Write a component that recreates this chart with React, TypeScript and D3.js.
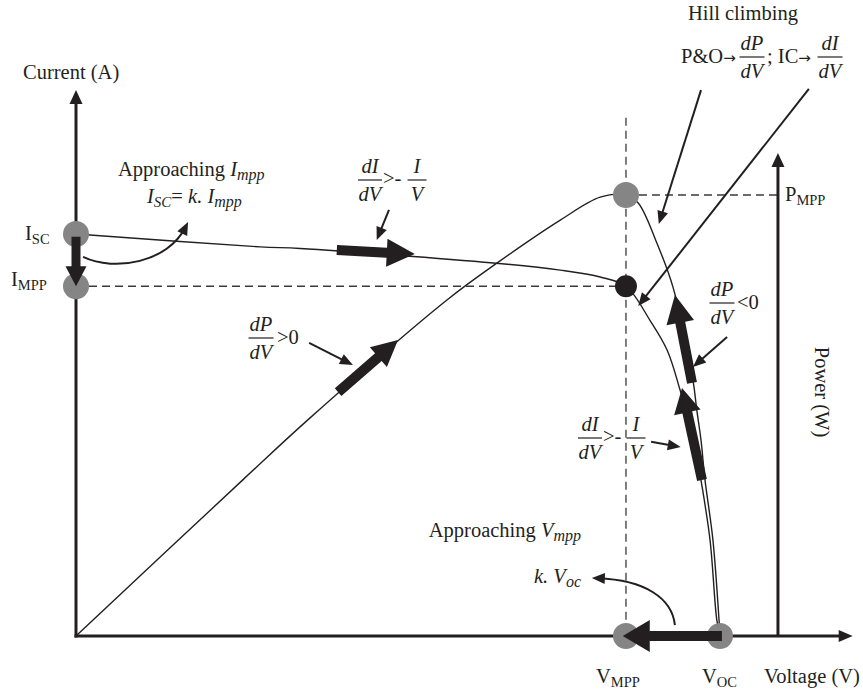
import React from "react";
import * as d3 from "d3";

const W = 863;
const H = 693;

// I–V characteristic: voltage (% of Voc) and current (% of Isc)
const ivVoltage = [0, 28.6, 34.8, 64.8, 75.2, 81.4, 85.4, 89.1, 91.8, 93.8, 95.96, 97.05, 98.45, 99.5, 100];
const ivCurrent = [100, 96.8, 96.4, 92.8, 91.0, 89.3, 87.0, 78.6, 71.1, 61.2, 48.8, 38.8, 23.9, 4.0, 0];

// P–V characteristic: voltage (% of Voc) and power (% of Pmpp)
const pvVoltage = [0, 25.9, 36.3, 57.6, 65.4, 75.2, 81.4, 85.4, 87.3, 90.2, 92.7, 95.8, 96.4, 97.05, 97.67, 98.9, 99.85, 100];
const pvPower = [0, 35.4, 49.4, 76.2, 84.6, 94.3, 99.5, 100, 98.2, 89.1, 79.1, 58.0, 51.2, 44.4, 35.4, 21.8, 3.6, 0];

// operating points
const Voc = 100;
const Vmpp = 85.4;
const Isc = 100;
const Impp = 87.0;
const Pmpp = 100;

// axis extents (same units as above)
const vAxisEnd = 120.6;
const iAxisEnd = 135.8;
const powerAxisV = 109;
const pAxisEnd = 109.5;
const mppGuideTop = 117.5;

// tracking steps drawn along the curves: [v0, value0, v1, value1]
const iscStep = [0, 99.3, 0, Impp];
const ivFlatStep = [40.5, 96.0, 52.6, 95.0];
const ivSteepStep = [97.2, 38.8, 94.1, 61.7];
const pvRiseStep = [40.7, 55.3, 50.0, 67.1];
const pvFallStep = [95.65, 57.4, 93.0, 77.3];
const vocStep = [100.3, 0, 84.9, 0];

const INK = "#231f20";
const GREY = "#858585";
const FONT = "'Liberation Serif', 'Times New Roman', serif";
const ARROW_FONT = "'DejaVu Sans', sans-serif";
const FS = 20.5;
const SUB = 14.5;

function blockArrow(x1: number, y1: number, x2: number, y2: number, shaft: number, half: number, len: number) {
  const dx = x2 - x1;
  const dy = y2 - y1;
  const L = Math.hypot(dx, dy);
  const ux = dx / L;
  const uy = dy / L;
  const px = -uy;
  const py = ux;
  const bx = x2 - ux * len;
  const by = y2 - uy * len;
  const s = shaft / 2;
  const pts = [
    [x1 + px * s, y1 + py * s],
    [bx + px * s, by + py * s],
    [bx + px * half, by + py * half],
    [x2, y2],
    [bx - px * half, by - py * half],
    [bx - px * s, by - py * s],
    [x1 - px * s, y1 - py * s],
  ];
  return "M" + pts.map((p) => p.join(",")).join("L") + "Z";
}

function headAt(x2: number, y2: number, ux: number, uy: number, len = 13, half = 5.5) {
  const px = -uy;
  const py = ux;
  const bx = x2 - ux * len;
  const by = y2 - uy * len;
  return `M${x2},${y2}L${bx + px * half},${by + py * half}L${bx - px * half},${by - py * half}Z`;
}

function Pointer({ a, b }: { a: number[]; b: number[] }) {
  const dx = b[0] - a[0];
  const dy = b[1] - a[1];
  const L = Math.hypot(dx, dy);
  const ux = dx / L;
  const uy = dy / L;
  return (
    <g>
      <line x1={a[0]} y1={a[1]} x2={b[0] - ux * 6} y2={b[1] - uy * 6} stroke={INK} strokeWidth={2} />
      <path d={headAt(b[0], b[1], ux, uy)} fill={INK} />
    </g>
  );
}

function CurvedPointer({ p0, c1, c2, p3 }: { p0: number[]; c1: number[]; c2: number[]; p3: number[] }) {
  const dx = p3[0] - c2[0];
  const dy = p3[1] - c2[1];
  const L = Math.hypot(dx, dy);
  const ux = dx / L;
  const uy = dy / L;
  return (
    <g>
      <path
        d={`M${p0[0]},${p0[1]}C${c1[0]},${c1[1]} ${c2[0]},${c2[1]} ${p3[0] - ux * 6},${p3[1] - uy * 6}`}
        fill="none"
        stroke={INK}
        strokeWidth={2}
      />
      <path d={headAt(p3[0], p3[1], ux, uy)} fill={INK} />
    </g>
  );
}

function Frac({ cx, bar, num, den, w }: { cx: number; bar: number; num: string; den: string; w: number }) {
  return (
    <g>
      <text x={cx} y={bar - 7.5} textAnchor="middle" fontStyle="italic">{num}</text>
      <line x1={cx - w / 2} x2={cx + w / 2} y1={bar} y2={bar} stroke={INK} strokeWidth={1.2} />
      <text x={cx} y={bar + 21} textAnchor="middle" fontStyle="italic">{den}</text>
    </g>
  );
}

export default function App() {
  const x = d3.scaleLinear().domain([0, 100]).range([76, 720]);
  const yI = d3.scaleLinear().domain([0, 100]).range([636, 234]);
  const yP = d3.scaleLinear().domain([0, 100]).range([636, 195]);

  const pI = (v: number, i: number) => [x(v), yI(i)];

  const ivPath = d3
    .line<number>()
    .x((v) => x(v))
    .y((_, k) => yI(ivCurrent[k]))
    .curve(d3.curveCatmullRom.alpha(0.5))(ivVoltage) as string;

  const pvPath = d3
    .line<number>()
    .x((v) => x(v))
    .y((_, k) => yP(pvPower[k]))
    .curve(d3.curveCatmullRom.alpha(0.5))(pvVoltage) as string;

  const x0 = x(0);
  const yBase = yI(0);

  const step = (s: number[], y: (n: number) => number, shaft: number, half: number, len: number) =>
    blockArrow(x(s[0]), y(s[1]), x(s[2]), y(s[3]), shaft, half, len);

  return (
    <svg width={W} height={H} viewBox={`0 0 ${W} ${H}`} style={{ display: "block", position: "absolute", left: 0, top: 0, background: "#fff" }}
      fontFamily={FONT} fontSize={FS} fill={INK}>
      <rect width={W} height={H} fill="#fff" />

      {/* MPP guides */}
      <g stroke="#3a3a3a" strokeWidth={1.3} strokeDasharray="8,5" fill="none">
        <line x1={x(Vmpp)} x2={x(Vmpp)} y1={yP(mppGuideTop)} y2={yBase} />
        <line x1={x(Vmpp)} x2={x(powerAxisV)} y1={yP(Pmpp)} y2={yP(Pmpp)} />
        <line x1={x0} x2={x(Vmpp)} y1={yI(Impp)} y2={yI(Impp)} />
      </g>

      {/* characteristics */}
      <path d={ivPath} fill="none" stroke={INK} strokeWidth={1.4} />
      <path d={pvPath} fill="none" stroke={INK} strokeWidth={1.4} />

      {/* axes */}
      <g stroke={INK} strokeWidth={3} fill="none">
        <line x1={x0} x2={x0} y1={yBase + 1.5} y2={yI(iAxisEnd) + 10} />
        <line x1={x0 - 1.5} x2={x(vAxisEnd) - 10} y1={yBase} y2={yBase} />
        <line x1={x(powerAxisV)} x2={x(powerAxisV)} y1={yBase} y2={yP(pAxisEnd) + 10} />
      </g>
      <path d={headAt(x0, yI(iAxisEnd), 0, -1, 14, 6.5)} fill={INK} />
      <path d={headAt(x(vAxisEnd), yBase, 1, 0, 14, 6)} fill={INK} />
      <path d={headAt(x(powerAxisV), yP(pAxisEnd), 0, -1, 14, 6.5)} fill={INK} />

      {/* key points */}
      <circle cx={x0} cy={yI(Isc)} r={13} fill={GREY} />
      <circle cx={x0} cy={yI(Impp)} r={13} fill={GREY} />
      <circle cx={x(Vmpp)} cy={yP(Pmpp)} r={13} fill={GREY} />
      <circle cx={x(Vmpp)} cy={yI(Impp)} r={11} fill={INK} />
      <circle cx={x(Vmpp)} cy={yBase} r={13} fill={GREY} />
      <circle cx={x(Voc)} cy={yBase} r={13} fill={GREY} />

      {/* tracking steps */}
      <g fill={INK}>
        <path d={step(iscStep, yI, 9, 10.5, 20)} />
        <path d={step(ivFlatStep, yI, 10, 14, 28)} />
        <path d={step(ivSteepStep, yI, 10, 13.5, 25)} />
        <path d={step(pvRiseStep, yP, 10, 13, 26)} />
        <path d={step(pvFallStep, yP, 10, 14, 28)} />
        <path d={step(vocStep, yI, 10, 16, 27)} />
      </g>

      {/* callouts */}
      <CurvedPointer p0={pI(1.1, 94.3)} c1={pI(6.1, 90.5)} c2={pI(14.3, 93.0)} p3={pI(17.4, 103.0)} />
      <Pointer a={pI(48.6, 106.0)} b={pI(46.7, 98.5)} />
      <Pointer a={pI(36.2, 72.9)} b={pI(43.0, 67.4)} />
      <Pointer a={pI(97.05, 135.8)} b={pI(90.5, 102.5)} />
      <Pointer a={pI(113.8, 136.1)} b={pI(87.3, 82.1)} />
      <Pointer a={pI(101.1, 74.4)} b={pI(95.8, 66.9)} />
      <Pointer a={pI(89.3, 48.3)} b={pI(93.9, 47.0)} />
      <CurvedPointer p0={pI(93.0, 2.7)} c1={pI(92.55, 9.45)} c2={pI(88.35, 13.9)} p3={pI(80.1, 14.4)} />

      {/* axis titles */}
      <text x={23} y={79}>Current (A)</text>
      <text x={764} y={683}>Voltage (V)</text>
      <text transform="translate(815,392) rotate(90)" textAnchor="middle">Power (W)</text>

      {/* point labels */}
      <text x={25} y={240}>I<tspan fontSize={SUB} dy={4}>SC</tspan></text>
      <text x={11} y={286}>I<tspan fontSize={SUB} dy={4}>MPP</tspan></text>
      <text x={785} y={201}>P<tspan fontSize={SUB} dy={4}>MPP</tspan></text>
      <text x={596} y={683}>V<tspan fontSize={SUB} dy={4}>MPP</tspan></text>
      <text x={702} y={683}>V<tspan fontSize={SUB} dy={4}>OC</tspan></text>

      {/* fractional short-circuit / open-circuit notes */}
      <text x={118} y={176}>Approaching <tspan fontStyle="italic">I</tspan><tspan fontStyle="italic" fontSize={16} dy={4}>mpp</tspan></text>
      <text x={147} y={203} fontStyle="italic">I<tspan fontSize={15} dy={4}>SC</tspan><tspan dy={-4} fontStyle="normal">= </tspan>k. I<tspan fontSize={16} dy={4}>mpp</tspan></text>
      <text x={581} y={537} textAnchor="end">Approaching <tspan fontStyle="italic">V</tspan><tspan fontStyle="italic" fontSize={16} dy={4}>mpp</tspan></text>
      <text x={581} y={583} textAnchor="end" fontStyle="italic">k. V<tspan fontSize={16} dy={4}>oc</tspan></text>

      {/* hill climbing */}
      <text x={688} y={20}>Hill climbing</text>
      <text x={681} y={63}>P&amp;O<tspan fontFamily={ARROW_FONT} fontSize={15}>→</tspan></text>
      <Frac cx={752} bar={57} num="dP" den="dV" w={25} />
      <text x={767} y={63}>; IC<tspan fontFamily={ARROW_FONT} fontSize={15}>→</tspan></text>
      <Frac cx={830} bar={57} num="dI" den="dV" w={25} />

      {/* slope conditions */}
      <Frac cx={370} bar={180} num="dI" den="dV" w={24} />
      <text x={383} y={185}>&gt;-</text>
      <Frac cx={417} bar={180} num="I" den="V" w={19} />

      <Frac cx={261} bar={338} num="dP" den="dV" w={25} />
      <text x={277} y={344}>&gt;0</text>

      <Frac cx={722} bar={303} num="dP" den="dV" w={25} />
      <text x={737} y={309}>&lt;0</text>

      <Frac cx={590} bar={438} num="dI" den="dV" w={24} />
      <text x={603} y={443}>&gt;-</text>
      <Frac cx={636} bar={438} num="I" den="V" w={19} />
    </svg>
  );
}
